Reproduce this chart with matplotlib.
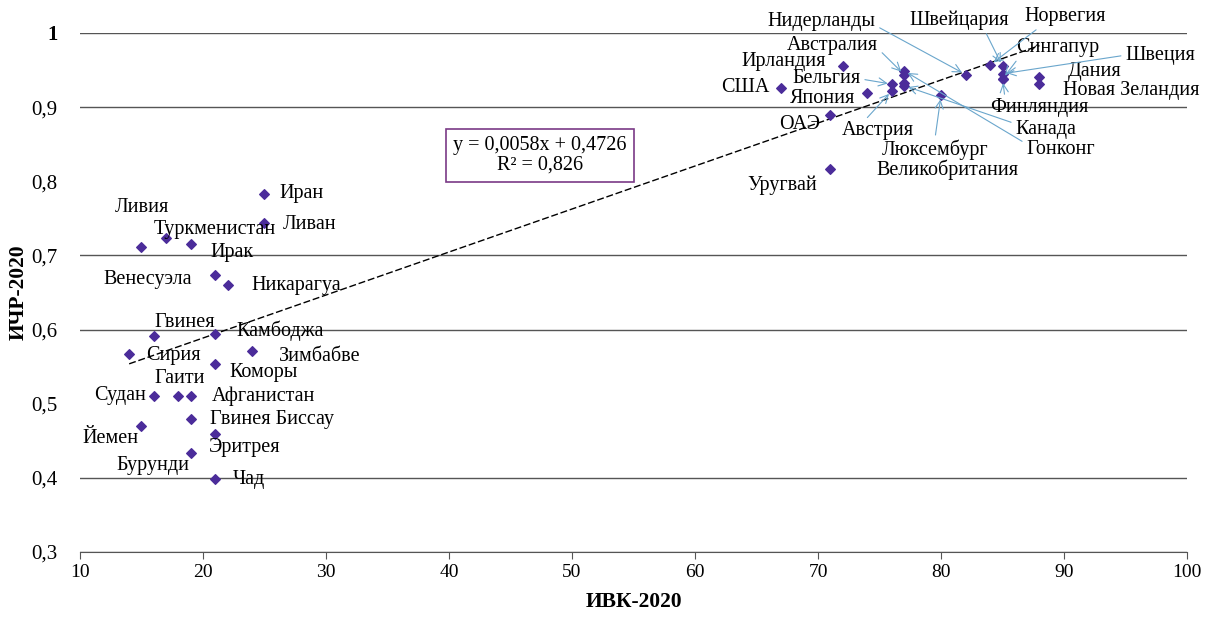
import numpy as np
import matplotlib
matplotlib.use('Agg')
import matplotlib.pyplot as plt
from matplotlib.ticker import FuncFormatter

plt.rcParams['font.family'] = ['Liberation Serif', 'DejaVu Serif']

# данные: страна, ИВК-2020, ИЧР-2020
countries = ['Дания', 'Новая Зеландия', 'Финляндия', 'Сингапур', 'Швеция', 'Швейцария',
             'Норвегия', 'Нидерланды', 'Люксембург', 'Австралия', 'Канада', 'Гонконг',
             'Великобритания', 'Австрия', 'Бельгия', 'Ирландия', 'Япония', 'ОАЭ', 'Уругвай', 'США',
             'Иран', 'Ливан', 'Ливия', 'Туркменистан', 'Венесуэла', 'Ирак', 'Никарагуа',
             'Гвинея', 'Камбоджа', 'Сирия', 'Зимбабве', 'Коморы', 'Судан', 'Гаити',
             'Афганистан', 'Гвинея Биссау', 'Йемен', 'Эритрея', 'Бурунди', 'Чад']
ivk = [88, 88, 85, 85, 85, 85, 84, 82, 80, 77, 77, 77, 77, 76, 76, 72, 74, 71, 71, 67,
       25, 25, 17, 19, 15, 21, 22, 16, 21, 14, 24, 21, 16, 18, 19, 19, 15, 21, 19, 21]
ichr = [0.940, 0.931, 0.938, 0.938, 0.945, 0.955, 0.957, 0.944, 0.916, 0.944, 0.929, 0.949,
        0.932, 0.922, 0.931, 0.955, 0.919, 0.890, 0.817, 0.926,
        0.783, 0.744, 0.724, 0.715, 0.711, 0.674, 0.660, 0.592, 0.594, 0.567, 0.571, 0.554,
        0.510, 0.510, 0.511, 0.480, 0.470, 0.459, 0.433, 0.398]

# положение подписей (центр текста) и откуда идёт стрелка (None - без стрелки)
label_pos = {
    'Нидерланды': (70.3, 1.015, (1.0, 0.3)),
    'Швейцария': (81.5, 1.0175, (0.75, 0.0)),
    'Норвегия': (90.1, 1.022, (0.2, 0.0)),
    'Австралия': (71.2, 0.9835, (1.0, 0.3)),
    'Сингапур': (89.5, 0.980, (0.05, 0.1)),
    'Швеция': (97.8, 0.970, (0.0, 0.5)),
    'Ирландия': (67.2, 0.962, None),
    'Дания': (92.5, 0.948, None),
    'Бельгия': (70.7, 0.938, (1.0, 0.5)),
    'США': (64.1, 0.926, None),
    'Япония': (70.4, 0.912, None),
    'Новая Зеландия': (95.5, 0.922, None),
    'Финляндия': (88.0, 0.899, (0.15, 1.0)),
    'ОАЭ': (68.5, 0.876, None),
    'Австрия': (74.9, 0.868, (0.3, 1.0)),
    'Канада': (88.5, 0.870, (0.0, 0.8)),
    'Люксембург': (79.5, 0.843, (0.5, 1.0)),
    'Гонконг': (89.7, 0.843, (0.0, 0.8)),
    'Великобритания': (80.5, 0.816, None),
    'Уругвай': (67.1, 0.794, None),
    'Иран': (28.0, 0.783, None),
    'Ливия': (15.0, 0.764, None),
    'Ливан': (28.7, 0.742, None),
    'Туркменистан': (21.0, 0.735, None),
    'Ирак': (22.4, 0.704, None),
    'Венесуэла': (15.5, 0.667, None),
    'Никарагуа': (27.6, 0.660, None),
    'Гвинея': (18.5, 0.610, None),
    'Камбоджа': (26.3, 0.598, None),
    'Сирия': (17.6, 0.565, None),
    'Зимбабве': (29.5, 0.564, None),
    'Коморы': (24.9, 0.542, None),
    'Гаити': (18.1, 0.534, None),
    'Судан': (13.3, 0.511, None),
    'Афганистан': (24.9, 0.510, None),
    'Гвинея Биссау': (25.6, 0.479, None),
    'Йемен': (12.5, 0.453, None),
    'Эритрея': (23.4, 0.441, None),
    'Бурунди': (15.9, 0.417, None),
    'Чад': (23.7, 0.398, None),
}

fig = plt.figure(figsize=(12.06, 6.19), dpi=100)
ax = fig.add_axes([0.0663, 0.1082, 0.918, 0.8385])

ax.scatter(ivk, ichr, marker='D', s=24, color='#4b2c9a', zorder=3)

# линия тренда (по диапазону данных)
xt = np.array([min(ivk), max(ivk)])
ax.plot(xt, 0.0058 * xt + 0.4726, ls=(0, (5, 2)), color='black', lw=1.0, zorder=2)

for name, x, y in zip(countries, ivk, ichr):
    lx, ly, rel = label_pos[name]
    if rel is None:
        ax.annotate(name, xy=(x, y), xytext=(lx, ly), ha='center', va='center',
                    fontsize=14.5, annotation_clip=False, zorder=4)
    else:
        ax.annotate(name, xy=(x, y), xytext=(lx, ly), ha='center', va='center',
                    fontsize=14.5, annotation_clip=False, zorder=4,
                    arrowprops=dict(arrowstyle='->', color='#6aa6cc', lw=0.8,
                                    relpos=rel, shrinkA=1, shrinkB=3))

ax.text(47.4, 0.835, 'y = 0,0058x + 0,4726\nR² = 0,826', ha='center', va='center',
        fontsize=14.5, linespacing=1.1,
        bbox=dict(boxstyle='square,pad=0.35', fc='white', ec='#7a3a86', lw=1.2), zorder=5)

ax.set_xlim(10, 100)
ax.set_ylim(0.3, 1.0)
ax.set_xticks(range(10, 101, 10))
ax.set_yticks(np.arange(0.3, 1.01, 0.1))
ax.yaxis.set_major_formatter(FuncFormatter(
    lambda v, p: '1' if abs(v - 1) < 1e-6 else ('%.1f' % v).replace('.', ',')))
ax.grid(axis='y', color='#555555', lw=1.0)
ax.set_axisbelow(True)
# в исходнике линии 0,5 и 0,8 не видны
for i, gl in enumerate(ax.yaxis.get_gridlines()):
    if i in (2, 5):
        gl.set_visible(False)

for s in ['top', 'right', 'left']:
    ax.spines[s].set_visible(False)
ax.spines['bottom'].set_color('#555555')
ax.tick_params(axis='x', labelsize=14, direction='out', length=5, color='#555555')
ax.tick_params(axis='y', labelsize=15, length=0, pad=16)
for t in ax.get_yticklabels():
    if t.get_text() == '1':
        t.set_fontweight('bold')

ax.set_xlabel('ИВК-2020', fontsize=15.5, fontweight='bold', labelpad=8)
ax.set_ylabel('ИЧР-2020', fontsize=15.5, fontweight='bold', labelpad=2)

fig.savefig('out.png', dpi=100)
